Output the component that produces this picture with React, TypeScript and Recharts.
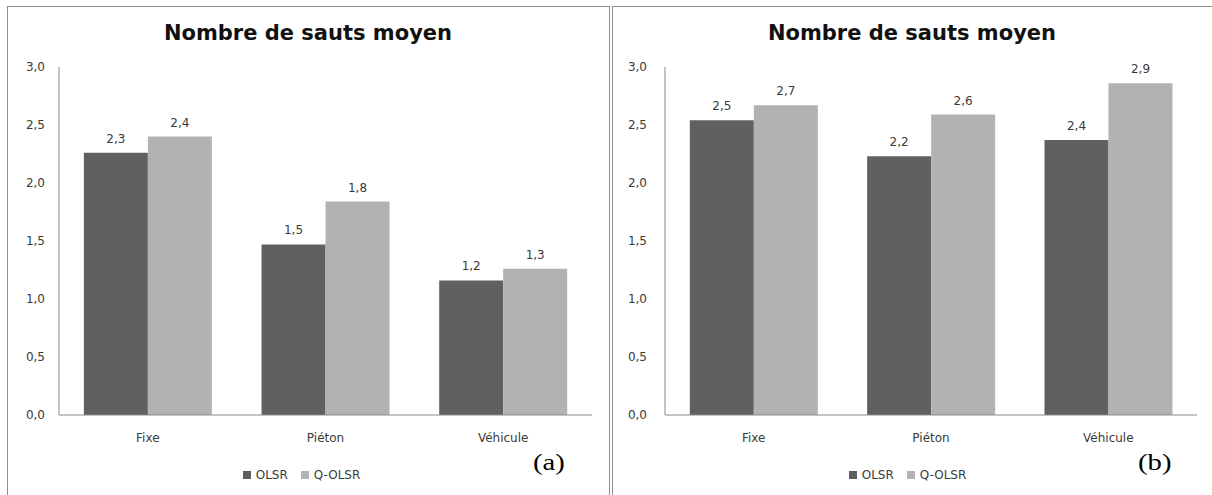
import React from "react";
import { BarChart, Bar, XAxis, YAxis, Legend, LabelList } from "recharts";

const categories = ["Fixe", "Piéton", "Véhicule"];
const seriesNames = ["OLSR", "Q-OLSR"];
const olsrA = [2.26, 1.47, 1.16];
const qolsrA = [2.4, 1.84, 1.26];
const olsrB = [2.54, 2.23, 2.37];
const qolsrB = [2.67, 2.59, 2.86];
const yTicks = [0, 0.5, 1, 1.5, 2, 2.5, 3];
const titleText = "Nombre de sauts moyen";

const COLORS = ["#606060", "#b2b2b2"];
const TEXT = "#3a3a3a";
const AXIS = "#8a8a8a";
const FONT = "'DejaVu Sans', Verdana, sans-serif";

const fmt = (v: any) => Number(v).toFixed(1).replace(".", ",");

function buildRows(a: number[], b: number[]) {
  return categories.map((c, i) => ({ cat: c, s0: a[i], s1: b[i] }));
}

function LegendContent({ shift }: { shift: number }) {
  return (
    <div
      style={{
        display: "flex",
        justifyContent: "center",
        alignItems: "center",
        height: 20,
        lineHeight: "20px",
        marginLeft: shift,
        fontFamily: FONT,
        fontSize: 12,
        color: TEXT,
      }}
    >
      {seriesNames.map((n, i) => (
        <span
          key={n}
          style={{ display: "flex", alignItems: "center", marginRight: i === 0 ? 13 : 0 }}
        >
          <span
            style={{ display: "inline-block", width: 8, height: 8, background: COLORS[i], marginRight: 5 }}
          />
          {n}
        </span>
      ))}
    </div>
  );
}

type PanelProps = {
  left: number;
  width: number;
  a: number[];
  b: number[];
  yAxisWidth: number;
  yTickMargin: number;
  rightMargin: number;
  xAxisHeight: number;
  legendShift: number;
  letter: string;
  letterLeft: number;
};

function Panel(p: PanelProps) {
  const rows = buildRows(p.a, p.b);
  const height = 489;
  return (
    <>
      <div
        style={{
          position: "absolute",
          left: p.left,
          top: 6,
          width: p.width + 1,
          height: 500,
          border: "1px solid #8e8e8e",
          boxSizing: "border-box",
        }}
      />
      <div style={{ position: "absolute", left: p.left, top: 6, width: p.width, height }}>
        <BarChart
          width={p.width}
          height={height}
          data={rows}
          margin={{ top: 61, right: p.rightMargin, left: 0, bottom: 10 }}
          barCategoryGap="14%"
          barGap={0}
        >
          <XAxis
            dataKey="cat"
            height={p.xAxisHeight}
            tickLine={false}
            tickSize={0}
            tickMargin={18}
            axisLine={{ stroke: AXIS }}
            tick={{ fill: TEXT, fontSize: 12, fontFamily: FONT }}
          />
          <YAxis
            width={p.yAxisWidth}
            domain={[0, 3]}
            ticks={yTicks}
            tickFormatter={fmt}
            tickLine={false}
            tickSize={0}
            tickMargin={p.yTickMargin}
            axisLine={{ stroke: AXIS }}
            tick={{ fill: TEXT, fontSize: 12, fontFamily: FONT }}
            interval={0}
          />
          <Legend
            verticalAlign="bottom"
            content={() => <LegendContent shift={p.legendShift} />}
          />
          <Bar dataKey="s0" name={seriesNames[0]} fill={COLORS[0]} isAnimationActive={false}>
            <LabelList
              dataKey="s0"
              position="top"
              offset={10}
              formatter={fmt}
              style={{ fill: TEXT, fontSize: 12, fontFamily: FONT }}
            />
          </Bar>
          <Bar dataKey="s1" name={seriesNames[1]} fill={COLORS[1]} isAnimationActive={false}>
            <LabelList
              dataKey="s1"
              position="top"
              offset={10}
              formatter={fmt}
              style={{ fill: TEXT, fontSize: 12, fontFamily: FONT }}
            />
          </Bar>
        </BarChart>
      </div>
      <div
        style={{
          position: "absolute",
          left: p.left,
          top: 19,
          width: p.width,
          textAlign: "center",
          fontFamily: "'DejaVu Sans', sans-serif",
          fontWeight: "bold",
          fontSize: 21,
          lineHeight: "28px",
          color: "#111",
        }}
      >
        {titleText}
      </div>
      <div
        style={{
          position: "absolute",
          left: p.letterLeft,
          top: 449,
          fontFamily: "'Liberation Serif', 'Times New Roman', serif",
          fontSize: 23,
          lineHeight: "28px",
          color: "#000",
          transform: "scaleX(1.25)",
          transformOrigin: "left center",
        }}
      >
        {p.letter}
      </div>
    </>
  );
}

export default function App() {
  return (
    <div
      style={{
        position: "absolute",
        left: 0,
        top: 0,
        width: 1212,
        height: 495,
        overflow: "hidden",
        background: "#fff",
      }}
    >
      <Panel
        left={7}
        width={602}
        a={olsrA}
        b={qolsrA}
        yAxisWidth={52}
        yTickMargin={14}
        rightMargin={17}
        xAxisHeight={50}
        legendShift={4}
        letter="(a)"
        letterLeft={533}
      />
      <Panel
        left={612}
        width={600}
        a={olsrB}
        b={qolsrB}
        yAxisWidth={53}
        yTickMargin={18}
        rightMargin={15}
        xAxisHeight={50}
        legendShift={6}
        letter="(b)"
        letterLeft={1138}
      />
    </div>
  );
}
